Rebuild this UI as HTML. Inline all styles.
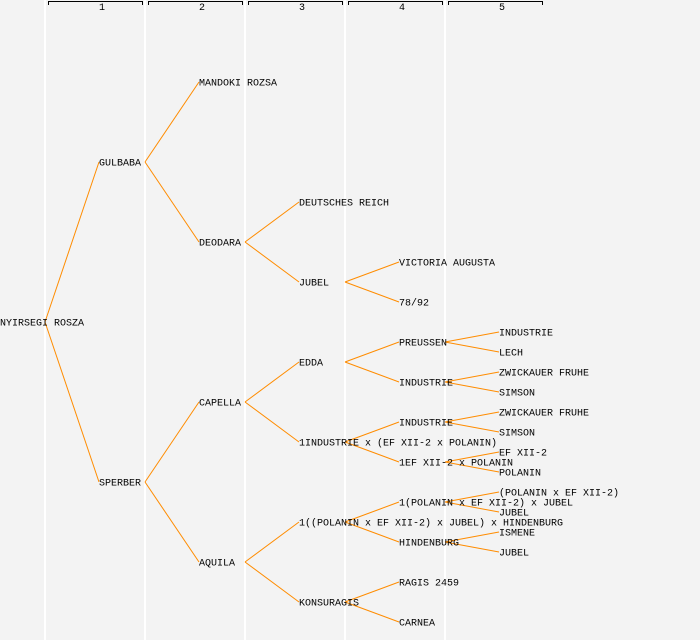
<!DOCTYPE html>
<html><head><style>
html,body{margin:0;padding:0;background:#f3f3f3;}
svg{display:block;}
text{font-family:"Liberation Mono","DejaVu Sans Mono",monospace;font-size:10px;fill:#000;}
</style></head><body>
<svg width="700" height="640" xmlns="http://www.w3.org/2000/svg">
<rect width="700" height="640" fill="#f3f3f3"/>
<g stroke="#ffffff" stroke-width="2">
<line x1="45" y1="0" x2="45" y2="640"/><line x1="145" y1="0" x2="145" y2="640"/><line x1="245" y1="0" x2="245" y2="640"/><line x1="345" y1="0" x2="345" y2="640"/><line x1="445" y1="0" x2="445" y2="640"/>
</g>
<g stroke="#000" stroke-width="1" fill="none">
<path d="M48.5 5V1.5H142.5V5"/><path d="M148.5 5V1.5H242.5V5"/><path d="M248.5 5V1.5H342.5V5"/><path d="M348.5 5V1.5H442.5V5"/><path d="M448.5 5V1.5H542.5V5"/>
</g>
<g style="font-size:8px" text-anchor="middle">
<text x="102" y="10">1</text><text x="202" y="10">2</text><text x="302" y="10">3</text><text x="402" y="10">4</text><text x="502" y="10">5</text>
</g>
<g stroke="#ff8c00" stroke-width="1">
<line x1="45" y1="322" x2="99" y2="162"/><line x1="45" y1="322" x2="99" y2="482"/>
<line x1="145" y1="162" x2="199" y2="82"/><line x1="145" y1="162" x2="199" y2="242"/>
<line x1="145" y1="482" x2="199" y2="402"/><line x1="145" y1="482" x2="199" y2="562"/>
<line x1="245" y1="242" x2="299" y2="202"/><line x1="245" y1="242" x2="299" y2="282"/>
<line x1="245" y1="402" x2="299" y2="362"/><line x1="245" y1="402" x2="299" y2="442"/>
<line x1="245" y1="562" x2="299" y2="522"/><line x1="245" y1="562" x2="299" y2="602"/>
<line x1="345" y1="282" x2="399" y2="262"/><line x1="345" y1="282" x2="399" y2="302"/>
<line x1="345" y1="362" x2="399" y2="342"/><line x1="345" y1="362" x2="399" y2="382"/>
<line x1="345" y1="442" x2="399" y2="422"/><line x1="345" y1="442" x2="399" y2="462"/>
<line x1="345" y1="522" x2="399" y2="502"/><line x1="345" y1="522" x2="399" y2="542"/>
<line x1="345" y1="602" x2="399" y2="582"/><line x1="345" y1="602" x2="399" y2="622"/>
<line x1="445" y1="342" x2="499" y2="332"/><line x1="445" y1="342" x2="499" y2="352"/>
<line x1="445" y1="382" x2="499" y2="372"/><line x1="445" y1="382" x2="499" y2="392"/>
<line x1="445" y1="422" x2="499" y2="412"/><line x1="445" y1="422" x2="499" y2="432"/>
<line x1="445" y1="462" x2="499" y2="452"/><line x1="445" y1="462" x2="499" y2="472"/>
<line x1="445" y1="502" x2="499" y2="492"/><line x1="445" y1="502" x2="499" y2="512"/>
<line x1="445" y1="542" x2="499" y2="532"/><line x1="445" y1="542" x2="499" y2="552"/>
</g>
<g dominant-baseline="central" transform="translate(0,2)">
<text x="0" y="322">NYIRSEGI ROSZA</text>
<text x="99" y="162">GULBABA</text><text x="99" y="482">SPERBER</text>
<text x="199" y="82">MANDOKI ROZSA</text><text x="199" y="242">DEODARA</text><text x="199" y="402">CAPELLA</text><text x="199" y="562">AQUILA</text>
<text x="299" y="202">DEUTSCHES REICH</text><text x="299" y="282">JUBEL</text><text x="299" y="362">EDDA</text>
<text x="299" y="442">1INDUSTRIE x (EF XII-2 x POLANIN)</text>
<text x="299" y="522">1((POLANIN x EF XII-2) x JUBEL) x HINDENBURG</text>
<text x="299" y="602">KONSURAGIS</text>
<text x="399" y="262">VICTORIA AUGUSTA</text><text x="399" y="302">78/92</text>
<text x="399" y="342">PREUSSEN</text><text x="399" y="382">INDUSTRIE</text>
<text x="399" y="422">INDUSTRIE</text><text x="399" y="462">1EF XII-2 x POLANIN</text>
<text x="399" y="502">1(POLANIN x EF XII-2) x JUBEL</text><text x="399" y="542">HINDENBURG</text>
<text x="399" y="582">RAGIS 2459</text><text x="399" y="622">CARNEA</text>
<text x="499" y="332">INDUSTRIE</text><text x="499" y="352">LECH</text>
<text x="499" y="372">ZWICKAUER FRUHE</text><text x="499" y="392">SIMSON</text>
<text x="499" y="412">ZWICKAUER FRUHE</text><text x="499" y="432">SIMSON</text>
<text x="499" y="452">EF XII-2</text><text x="499" y="472">POLANIN</text>
<text x="499" y="492">(POLANIN x EF XII-2)</text><text x="499" y="512">JUBEL</text>
<text x="499" y="532">ISMENE</text><text x="499" y="552">JUBEL</text>
</g>
</svg>
</body></html>
